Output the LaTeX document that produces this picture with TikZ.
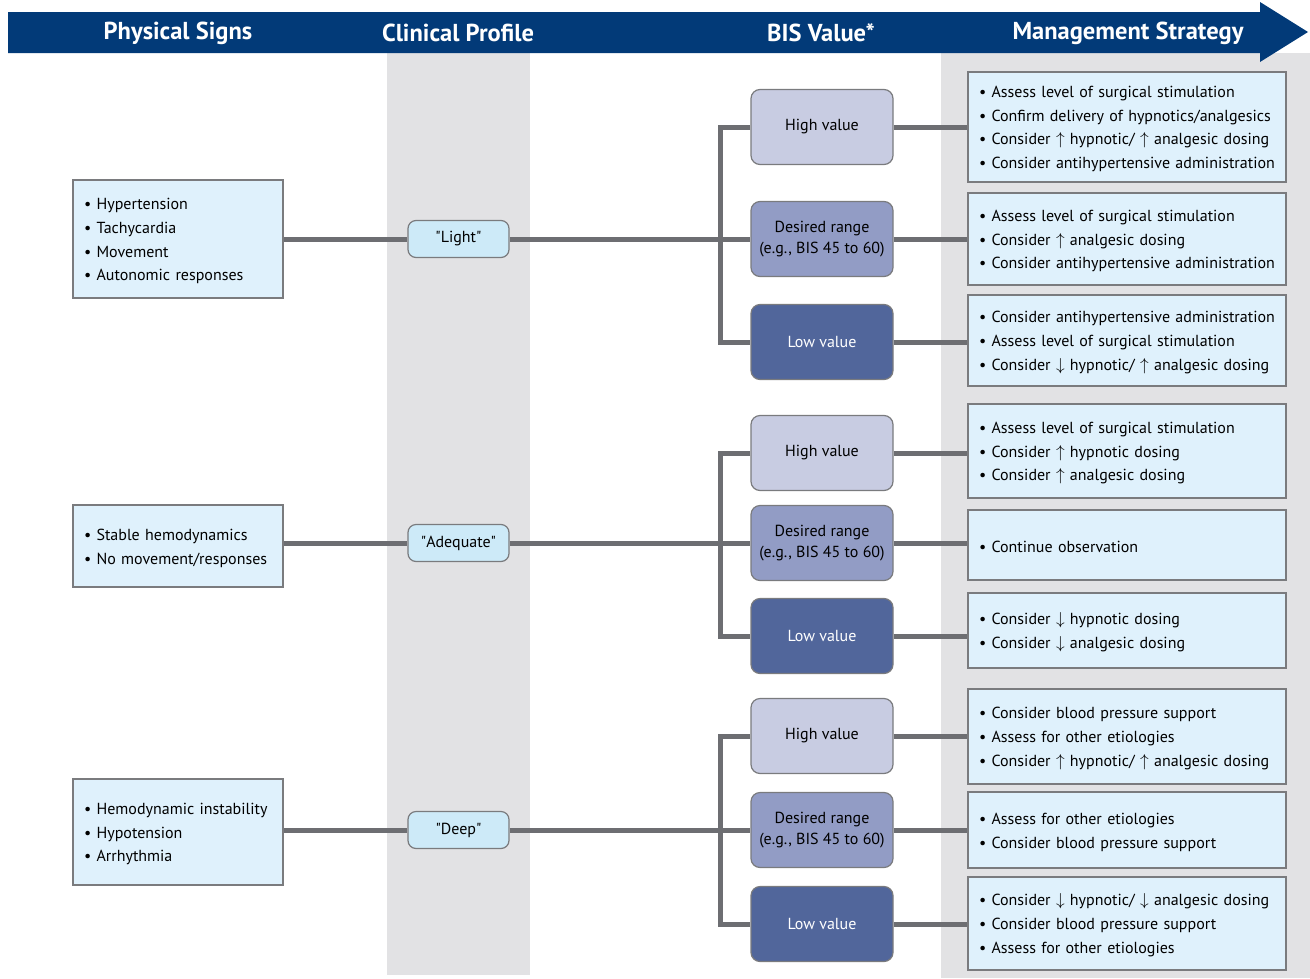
\documentclass[tikz,border=0pt]{standalone}
\usepackage{fontspec}
\setmainfont{PT Sans}
\newfontfamily\qf{PT Sans}
\pgfdeclarelayer{back}
\pgfdeclarelayer{lines}
\pgfsetlayers{back,lines,main}
\definecolor{hdr}{HTML}{023A78}
\definecolor{colgray}{HTML}{E2E2E4}
\definecolor{boxblue}{HTML}{DFF1FC}
\definecolor{profblue}{HTML}{CDEAF8}
\definecolor{highc}{HTML}{C8CCE2}
\definecolor{desc}{HTML}{929CC5}
\definecolor{lowc}{HTML}{51669B}
\definecolor{bordc}{HTML}{7A7B7E}
\definecolor{linec}{HTML}{6D6E72}
\newcommand{\UA}{$\uparrow$}
\newcommand{\DA}{$\downarrow$}
\newcommand{\li}[1]{\mbox{\textbullet\ #1}}
\newcommand{\lf}[1]{\mbox{\rule{0pt}{15.5pt}\textbullet\ #1}}
\newcommand{\qq}{{\qf"}}
\tikzset{
  hdrtext/.style={text=white, font=\fontsize{24.5}{26}\selectfont\bfseries},
  signbox/.style={draw=bordc, line width=1.3pt, fill=boxblue, inner xsep=11pt, inner ysep=0pt,
    text width=188pt, align=left, font=\fontsize{16}{23.7}\selectfont},
  mgbox/.style={draw=bordc, line width=1.3pt, fill=boxblue, inner xsep=11pt, inner ysep=0pt,
    text width=296pt, align=left, font=\fontsize{16}{23.7}\selectfont},
  profbox/.style={draw=bordc, line width=1.2pt, fill=profblue, rounded corners=8pt,
    minimum width=101pt, minimum height=37pt, inner sep=0pt, font=\fontsize{16}{18}\selectfont},
  bisbox/.style={draw=bordc, line width=1.2pt, rounded corners=9pt, minimum width=142pt,
    minimum height=75pt, inner sep=0pt, align=center, font=\fontsize{16}{21}\selectfont},
  highb/.style={bisbox, fill=highc},
  desb/.style={bisbox, fill=desc},
  lowb/.style={bisbox, fill=lowc, text=white},
  conn/.style={draw=linec, line width=5pt, line join=miter},
}
\begin{document}
\begin{tikzpicture}[x=1pt,y=-1pt]
\useasboundingbox (0,0) rectangle (1310,978);
% background columns
\begin{pgfonlayer}{back}
\fill[colgray] (387,53) rectangle (530,975);
\fill[colgray] (941,53) rectangle (1310,978);
\end{pgfonlayer}
% header arrow
\fill[hdr] (8,12) -- (1260,12) -- (1260,2) -- (1308,32) -- (1260,62) -- (1260,53) -- (8,53) -- cycle;
\node[hdrtext] (h1) at (178,33) {Physical Signs};
\node[hdrtext] (h2) at (458,33) {Clinical Profile};
\node[hdrtext] (h3) at (821,33) {BIS Value*};
\node[hdrtext] (h4) at (1128,33) {Management Strategy};

% physical signs
\node[signbox, minimum height=118pt] (S1) at (178,239) {\lf{Hypertension}\\\li{Tachycardia}\\\li{Movement}\\\li{Autonomic responses}};
\node[signbox, minimum height=82pt] (S2) at (178,546) {\lf{Stable hemodynamics}\\\li{No movement/responses}};
\node[signbox, minimum height=106pt] (S3) at (178,832) {\lf{Hemodynamic instability}\\\li{Hypotension}\\\li{Arrhythmia}};

% profiles
\node[profbox] (P1) at (458.5,239) {\qq Light\qq};
\node[profbox] (P2) at (458.5,543) {\qq Adequate\qq};
\node[profbox] (P3) at (458.5,830) {\qq Deep\qq};

% BIS boxes
\node[highb] (H1) at (822,127) {High value};
\node[desb]  (D1) at (822,239) {Desired range\\(e.g., BIS 45 to 60)};
\node[lowb]  (L1) at (822,342) {Low value};
\node[highb] (H2) at (822,453) {High value};
\node[desb]  (D2) at (822,543) {Desired range\\(e.g., BIS 45 to 60)};
\node[lowb]  (L2) at (822,636) {Low value};
\node[highb] (H3) at (822,736) {High value};
\node[desb]  (D3) at (822,830) {Desired range\\(e.g., BIS 45 to 60)};
\node[lowb]  (L3) at (822,924) {Low value};

% management boxes
\node[mgbox, minimum height=110pt] (M1a) at (1127,127) {\lf{Assess level of surgical stimulation}\\\li{Confirm delivery of hypnotics/analgesics}\\\li{Consider \UA\ hypnotic/ \UA\ analgesic dosing}\\\li{Consider antihypertensive administration}};
\node[mgbox, minimum height=92pt] (M1b) at (1127,239) {\lf{Assess level of surgical stimulation}\\\li{Consider \UA\ analgesic dosing}\\\li{Consider antihypertensive administration}};
\node[mgbox, minimum height=91pt] (M1c) at (1127,340.5) {\lf{Consider antihypertensive administration}\\\li{Assess level of surgical stimulation}\\\li{Consider \DA\ hypnotic/ \UA\ analgesic dosing}};
\node[mgbox, minimum height=94pt] (M2a) at (1127,451) {\lf{Assess level of surgical stimulation}\\\li{Consider \UA\ hypnotic dosing}\\\li{Consider \UA\ analgesic dosing}};
\node[mgbox, minimum height=70pt] (M2b) at (1127,545) {\lf{Continue observation}};
\node[mgbox, minimum height=75pt] (M2c) at (1127,630.5) {\lf{Consider \DA\ hypnotic dosing}\\\li{Consider \DA\ analgesic dosing}};
\node[mgbox, minimum height=95pt] (M3a) at (1127,736.5) {\lf{Consider blood pressure support}\\\li{Assess for other etiologies}\\\li{Consider \UA\ hypnotic/ \UA\ analgesic dosing}};
\node[mgbox, minimum height=76pt] (M3b) at (1127,830) {\lf{Assess for other etiologies}\\\li{Consider blood pressure support}};
\node[mgbox, minimum height=93pt] (M3c) at (1127,923.5) {\lf{Consider \DA\ hypnotic/ \DA\ analgesic dosing}\\\li{Consider blood pressure support}\\\li{Assess for other etiologies}};

% connectors
\coordinate (J1) at (720,239);
\coordinate (J2) at (720,543);
\coordinate (J3) at (720,830);
\begin{pgfonlayer}{lines}
\foreach \g in {1,2,3}{
  \draw[conn] (P\g.west -| S\g.east) -- (P\g.west);
  \draw[conn] (P\g.east) -- (J\g) -- (D\g.west);
  \draw[conn] (H\g.west) -| (J\g) |- (L\g.west);
}
\draw[conn] (H1.east) -- (H1.east -| M1a.west);
\draw[conn] (D1.east) -- (D1.east -| M1b.west);
\draw[conn] (L1.east) -- (L1.east -| M1c.west);
\draw[conn] (H2.east) -- (H2.east -| M2a.west);
\draw[conn] (D2.east) -- (D2.east -| M2b.west);
\draw[conn] (L2.east) -- (L2.east -| M2c.west);
\draw[conn] (H3.east) -- (H3.east -| M3a.west);
\draw[conn] (D3.east) -- (D3.east -| M3b.west);
\draw[conn] (L3.east) -- (L3.east -| M3c.west);
\end{pgfonlayer}
\end{tikzpicture}
\end{document}
